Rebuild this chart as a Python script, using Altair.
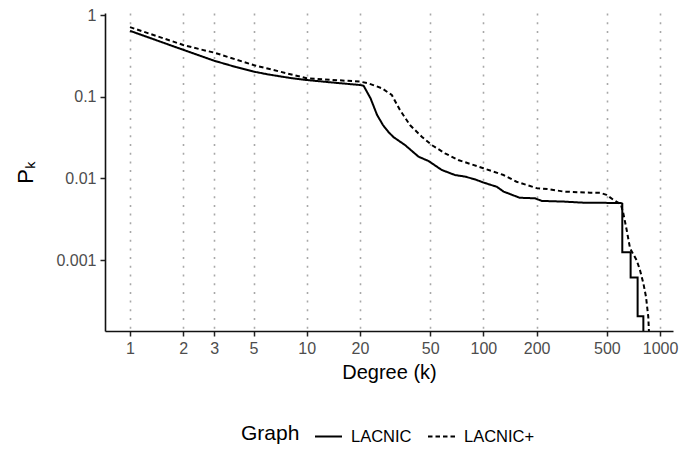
import altair as alt
import pandas as pd

# LACNIC (solid)
k_lacnic = [1, 2, 3, 4, 5, 6, 7, 8, 10, 12, 15, 18, 20, 21, 23, 25, 27, 29, 31, 36, 43, 49, 58, 69, 79, 90,
            100, 119, 130, 160, 196, 214, 284, 368, 600, 611, 611, 681, 681, 746, 746, 804, 804]
p_lacnic = [0.64, 0.375, 0.275, 0.23, 0.203, 0.188, 0.178, 0.17, 0.16, 0.154, 0.147, 0.142, 0.139, 0.136,
            0.095, 0.06, 0.045, 0.037, 0.032, 0.0256, 0.0184, 0.0163, 0.0127, 0.011, 0.0105, 0.0097,
            0.0089, 0.0079, 0.0069, 0.0058, 0.0057, 0.0053, 0.0052, 0.00504, 0.005, 0.0049, 0.00125,
            0.00125, 0.00061, 0.00061, 0.000205, 0.000205, 0.0001]

# LACNIC+ (dashed)
k_plus = [1, 2, 2.5, 3, 5, 10, 20, 22.3, 26.6, 30.3, 33.7, 38.4, 44.8, 51, 60.6, 72, 100, 130, 154, 200,
          237, 284, 401, 456, 497, 542, 600, 619, 647, 676, 736, 769, 804, 832, 857, 870]
p_plus = [0.71, 0.43, 0.38, 0.346, 0.244, 0.168, 0.153, 0.146, 0.127, 0.105, 0.0687, 0.045, 0.0324, 0.0256,
          0.0203, 0.0168, 0.0133, 0.011, 0.0091, 0.0076, 0.00736, 0.0069, 0.00668, 0.00668, 0.0063, 0.0055,
          0.0048, 0.00374, 0.00233, 0.00139, 0.001, 0.000757, 0.00052, 0.000356, 0.000203, 0.0001]

series = ["LACNIC", "LACNIC+"]
x_ticks = [1, 2, 3, 5, 10, 20, 50, 100, 200, 500, 1000]
y_ticks = [1, 0.1, 0.01, 0.001]

rows = []
for i, (k, p) in enumerate(zip(k_lacnic, p_lacnic)):
    rows.append({"k": k, "p": p, "Graph": series[0], "idx": i})
for i, (k, p) in enumerate(zip(k_plus, p_plus)):
    rows.append({"k": k, "p": p, "Graph": series[1], "idx": i})
df = pd.DataFrame(rows)

chart = alt.Chart(df).mark_line(clip=True, color="black", strokeWidth=2).encode(
    x=alt.X("k:Q",
            scale=alt.Scale(type="log", domain=[0.722, 1183], nice=False),
            axis=alt.Axis(title="Degree (k)", values=x_ticks, format="~g", grid=True,
                          gridDash=[2, 6.7], gridColor="#A8A8A8", gridWidth=1.6,
                          labelFontSize=16, titleFontSize=20, titlePadding=6)),
    y=alt.Y("p:Q",
            scale=alt.Scale(type="log", domain=[1.355e-4, 1.058], nice=False),
            axis=alt.Axis(title="Pₖ", values=y_ticks, format="~g", grid=False,
                          labelFontSize=16, titleFontSize=22, titlePadding=18)),
    strokeDash=alt.StrokeDash("Graph:N",
                              scale=alt.Scale(domain=series, range=[[1, 0], [4.5, 3]]),
                              legend=alt.Legend(orient="none", legendX=136, legendY=409,
                                                direction="horizontal", titleOrient="left",
                                                titleFontSize=21, labelFontSize=16.5,
                                                titleBaseline="middle", titleAnchor="middle",
                                                symbolType="stroke", symbolSize=729,
                                                symbolStrokeWidth=2, symbolStrokeColor="black",
                                                labelOffset=8, columnPadding=12,
                                                titlePadding=14, titleFontWeight="normal",
                                                titleColor="black", labelColor="black")),
    order="idx:Q",
).properties(
    width=568, height=318,
    autosize=alt.AutoSizeParams(type="none"),
    padding={"left": 105, "top": 13, "right": 25, "bottom": 122},
).configure_view(stroke=None).configure_axis(
    domainColor="#111111", domainWidth=1.6, tickColor="#222222", tickWidth=1.5, tickSize=5,
    labelColor="#4D4D4D", titleColor="black", labelFont="Liberation Sans",
    titleFont="Liberation Sans", titleFontWeight="normal", labelPadding=4,
).configure_legend(
    labelFont="Liberation Sans", titleFont="Liberation Sans",
)

chart.save("out.html", embed_options={"renderer": "svg", "actions": False})
